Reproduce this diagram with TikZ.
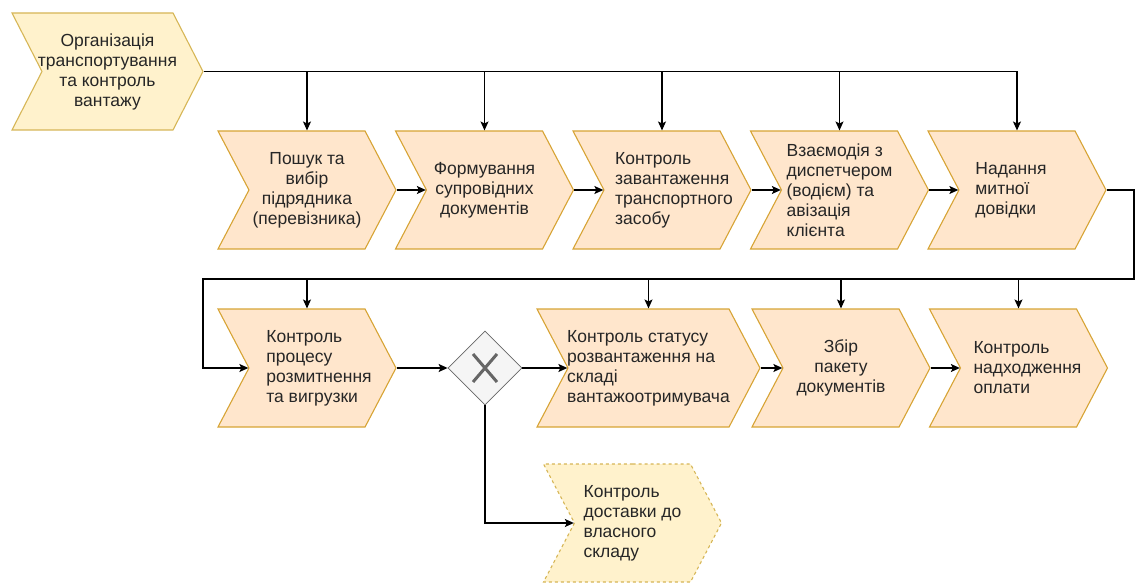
\documentclass[tikz,border=0pt]{standalone}
\usepackage{fontspec}
\setmainfont{Liberation Sans}
\usepackage{tikz}
\usetikzlibrary{arrows.meta, positioning, shapes.symbols, shapes.geometric}
\definecolor{stepfill}{HTML}{FFE6CC}
\definecolor{stepdraw}{HTML}{D7A435}
\definecolor{evfill}{HTML}{FFF2CC}
\definecolor{evdraw}{HTML}{D6B656}
\definecolor{gwfill}{HTML}{F5F5F5}
\definecolor{gwdraw}{HTML}{666666}
\definecolor{txtcolor}{HTML}{262626}
\newcommand{\ind}[1]{\hspace*{#1}}

\begin{document}
\begin{tikzpicture}[x=1pt, y=-1pt,
    >={Stealth[length=9pt, width=8pt, inset=2pt]},
    stepbox/.style={
        signal, signal to=east, signal from=west,
        signal pointer angle=124.6,
        draw=stepdraw, fill=stepfill, line width=1.1pt,
        minimum width=178pt, minimum height=118pt,
        inner xsep=-20pt, inner ysep=0pt, align=#1, text=txtcolor,
        font=\fontsize{17.5}{20}\selectfont
    },
    stepbox/.default=center,
    evbox/.style={
        stepbox=#1, fill=evfill, draw=evdraw
    },
    evbox/.default=center,
    gate/.style={
        diamond, aspect=1, inner sep=0pt,
        minimum width=74pt, minimum height=74pt,
        draw=gwdraw, fill=gwfill, line width=0.8pt,
        path picture={
            \draw[gwdraw, line width=3pt]
            ([shift={(-12,-14)}]path picture bounding box.center) -- ++(24,28)
            ([shift={(12,-14)}]path picture bounding box.center) -- ++(-24,28);
        }
    },
    flow/.style={->, line width=1.2pt}
]
\useasboundingbox (0,0) rectangle (1136,583);

% =========================
% START EVENT
% =========================
\node[evbox, minimum width=191pt, minimum height=117pt,
      signal pointer angle=125.7] (start) at (107.5,71.5)
 {Організація\\транспортування\\та контроль\\вантажу};

% =========================
% ROW 1
% =========================
\node[stepbox] (search) at (307,190)
 {Пошук та\\вибір\\підрядника\\(перевізника)};

\node[stepbox] (docs) at (484.5,190)
 {Формування\\супровідних\\документів};

\node[stepbox=left] (load) at (662,190)
 {\ind{24pt}Контроль\\\ind{24pt}завантаження\\
  \ind{24pt}транспортного\\\ind{24pt}засобу};

\node[stepbox=left] (disp) at (839.5,190)
 {Взаємодія з\\диспетчером\\(водієм) та\\авізація\\клієнта};

\node[stepbox=left] (customs) at (1017,190)
 {\ind{-12pt}Надання\\\ind{-12pt}митної\\\ind{-12pt}довідки};

% top bus
\draw[flow] (start.east) -| (customs.north);
\foreach \n in {search, docs, load, disp}
    \draw[flow] (start.east -| \n.north) -- (\n.north);

% chain
\draw[flow] (search.east) -- (docs.west);
\draw[flow] (docs.east) -- (load.west);
\draw[flow] (load.east) -- (disp.west);
\draw[flow] (disp.east) -- (customs.west);

% =========================
% ROW 2
% =========================
\node[stepbox=left] (clear) at (307,368)
 {\ind{24pt}Контроль\\\ind{24pt}процесу\\
  \ind{24pt}розмитнення\\\ind{24pt}та вигрузки};

\node[gate] (xor) at (485,368) {};

\node[stepbox=left, minimum width=223pt] (unload) at (648.5,368)
 {Контроль статусу\\розвантаження на\\складі\\вантажоотримувача};

\node[stepbox] (pack) at (841,368)
 {Збір\\пакету\\документів};

\node[stepbox=left] (pay) at (1018.5,368)
 {\ind{18pt}Контроль\\\ind{18pt}надходження\\\ind{18pt}оплати};

% bottom branch
\node[evbox=left, dash pattern=on 3pt off 3pt] (own) at (632.5,523)
 {Контроль\\доставки до\\власного\\складу};

% second bus (wrap-around)
\coordinate (busR) at (1134,279);
\coordinate (busL) at (203,279);
\draw[flow] (customs.east) -| (busR) -- (busL) |- (clear.west);
\foreach \n in {clear, unload, pack, pay}
    \draw[flow] (busL -| \n.north) -- (\n.north);

% chain
\draw[flow] (clear.east) -- (xor.west);
\draw[flow] (xor.east) -- (unload.west);
\draw[flow] (unload.east) -- (pack.west);
\draw[flow] (pack.east) -- (pay.west);
\draw[flow] (xor.south) |- (own.west);

\end{tikzpicture}
\end{document}
